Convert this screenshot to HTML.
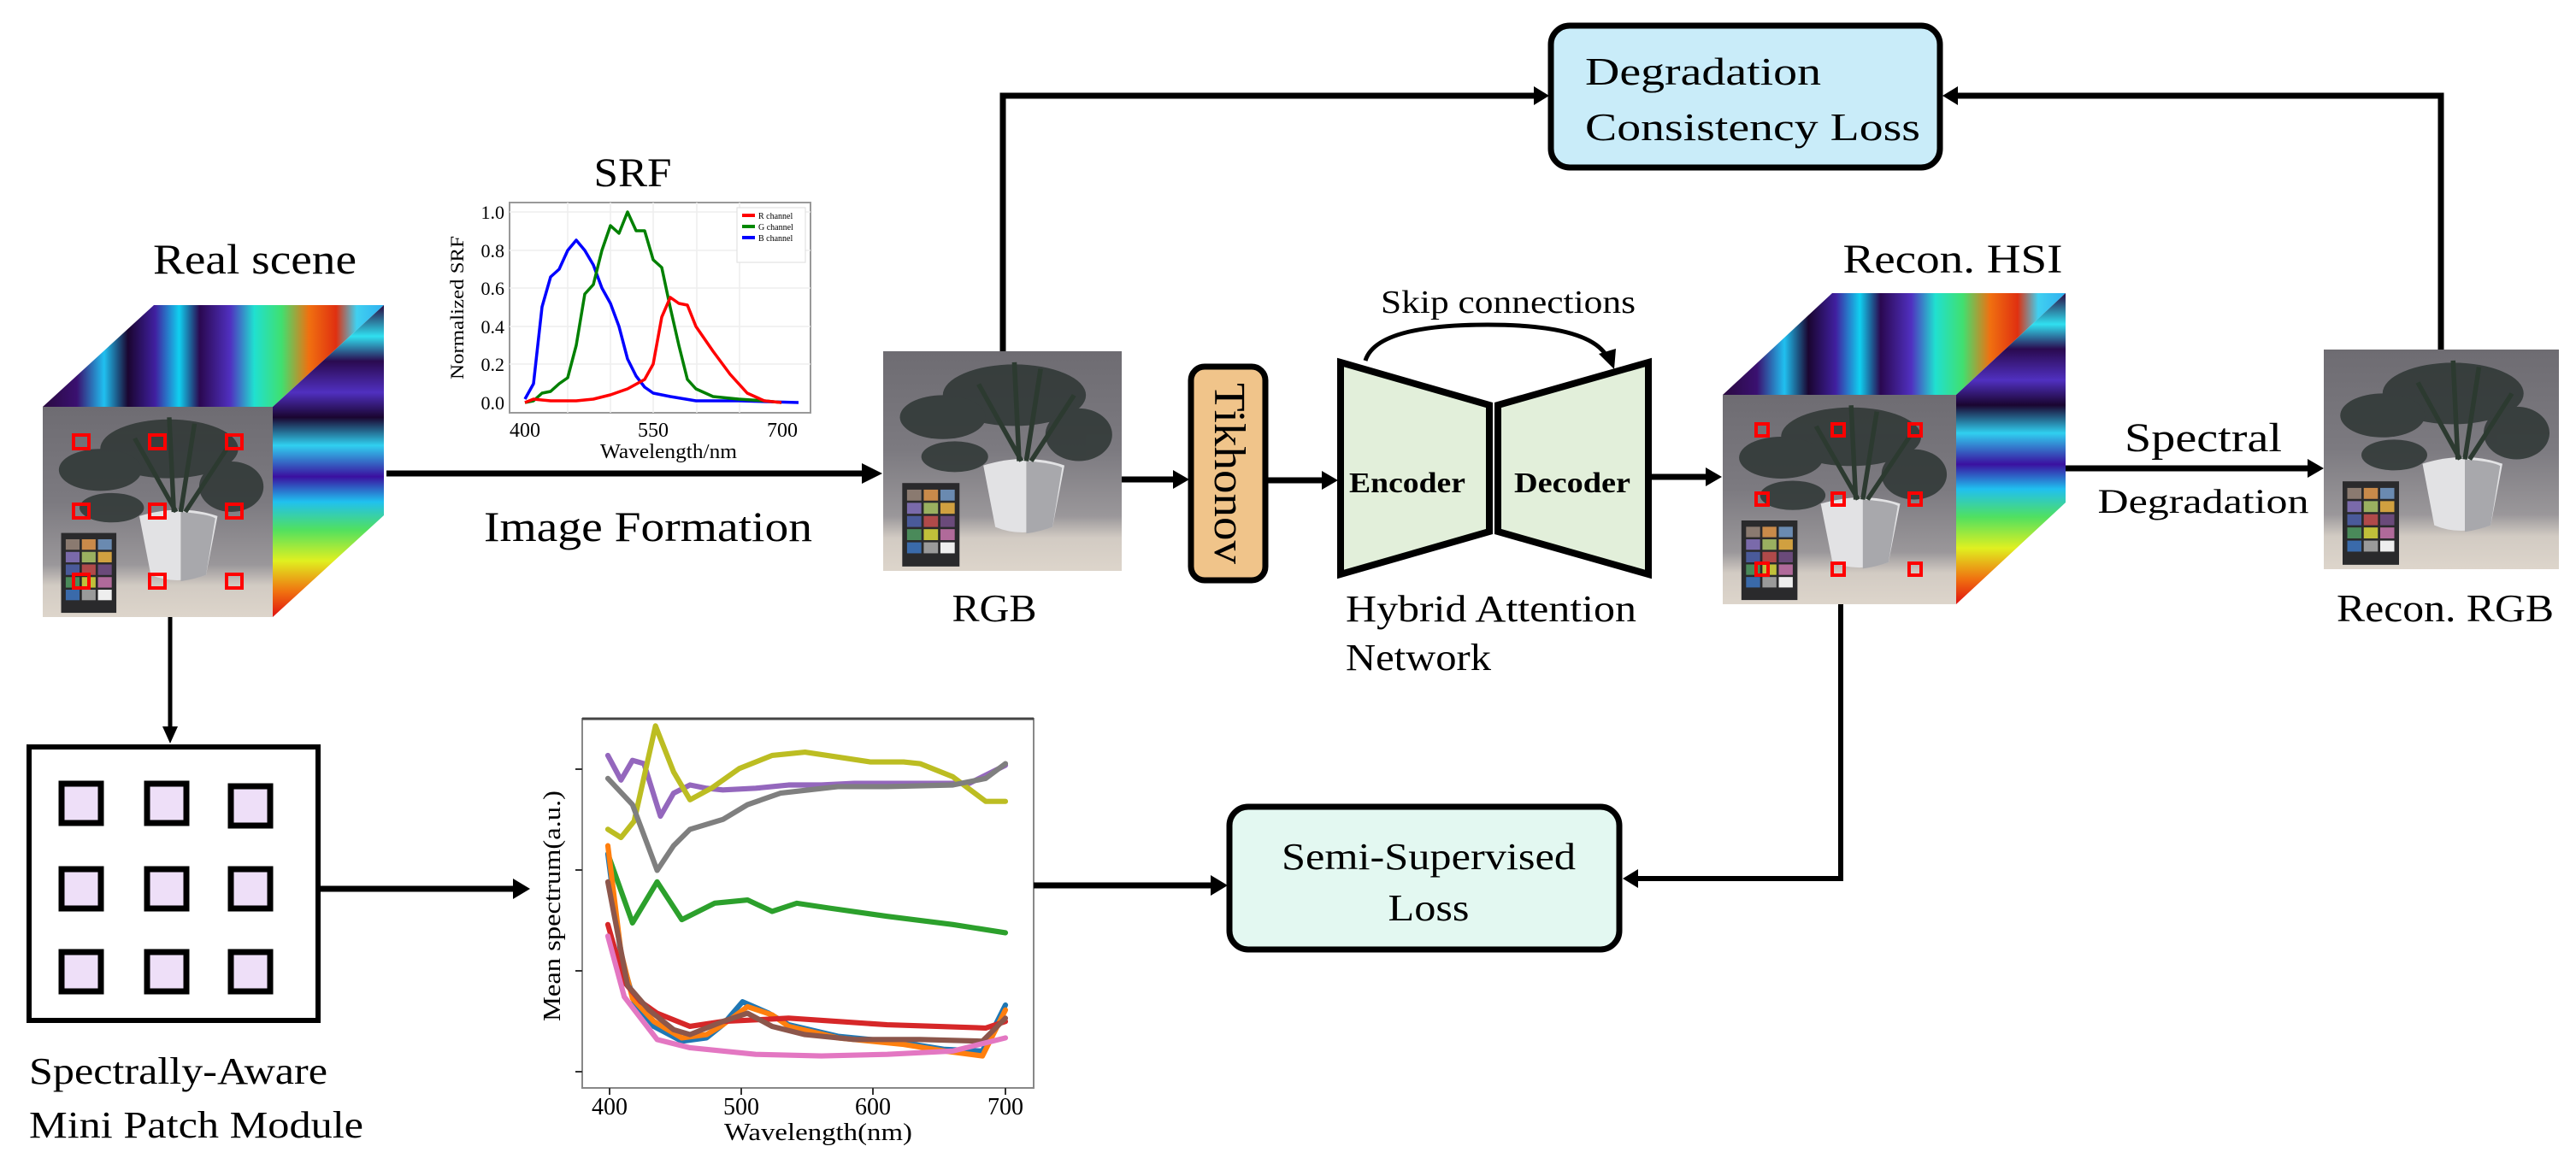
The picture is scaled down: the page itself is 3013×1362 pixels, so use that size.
<!DOCTYPE html>
<html><head><meta charset="utf-8"><style>
html,body{margin:0;padding:0;background:#fff;}
svg{display:block;font-family:"Liberation Serif","Times New Roman",serif;}
svg text{font-family:"Liberation Serif","Times New Roman",serif;fill:#000;}
</style></head><body>
<svg width="3013" height="1362" viewBox="0 0 3013 1362" xmlns="http://www.w3.org/2000/svg" font-family="Liberation Serif, serif">
<defs>
<linearGradient id="bg" x1="0" y1="0" x2="0" y2="1">
<stop offset="0" stop-color="#6e6c72"/><stop offset="0.45" stop-color="#7c7a80"/><stop offset="0.75" stop-color="#9a979a"/><stop offset="0.85" stop-color="#d2cbc3"/><stop offset="1" stop-color="#ddd5cb"/>
</linearGradient>
<symbol id="photo" viewBox="0 0 100 100" preserveAspectRatio="none">
<rect width="100" height="100" fill="url(#bg)"/>
<g fill="#2e3634" opacity="0.85">
<ellipse cx="55" cy="20" rx="30" ry="14"/>
<ellipse cx="25" cy="30" rx="18" ry="10"/>
<ellipse cx="82" cy="38" rx="14" ry="12"/>
<ellipse cx="30" cy="48" rx="14" ry="7"/>
</g>
<path d="M42 52 Q60 46 76 52 L71 80 Q58 85 47 80 Z" fill="#e2e2e4"/>
<path d="M60 50 Q72 51 75 53 L71 80 Q66 82 60 83 Z" fill="#a8a8ac"/>
<path d="M57 50 L55 5 M60 50 L66 8 M62 50 L80 20 M58 50 L40 15" stroke="#2c3a30" stroke-width="2" fill="none"/>
<rect x="8" y="60" width="24" height="38" fill="#2a2a2c"/>
<g>
<rect x="10" y="63" width="6" height="5" fill="#8a7a70"/><rect x="17" y="63" width="6" height="5" fill="#c98a4a"/><rect x="24" y="63" width="6" height="5" fill="#6a8ab0"/>
<rect x="10" y="69" width="6" height="5" fill="#7a6aaa"/><rect x="17" y="69" width="6" height="5" fill="#9ab060"/><rect x="24" y="69" width="6" height="5" fill="#d0a040"/>
<rect x="10" y="75" width="6" height="5" fill="#4a5a9a"/><rect x="17" y="75" width="6" height="5" fill="#b04a4a"/><rect x="24" y="75" width="6" height="5" fill="#6a4a7a"/>
<rect x="10" y="81" width="6" height="5" fill="#4a8a5a"/><rect x="17" y="81" width="6" height="5" fill="#c0c03a"/><rect x="24" y="81" width="6" height="5" fill="#b06a9a"/>
<rect x="10" y="87" width="6" height="5" fill="#3a6aaa"/><rect x="17" y="87" width="6" height="5" fill="#9a9a9a"/><rect x="24" y="87" width="6" height="5" fill="#eeeeee"/>
</g>
</symbol>
<linearGradient id="top" x1="0" y1="0" x2="1" y2="0">
<stop offset="0" stop-color="#2a0a40"/><stop offset="0.1" stop-color="#3a1070"/><stop offset="0.18" stop-color="#20c0f0"/><stop offset="0.25" stop-color="#1a0530"/><stop offset="0.33" stop-color="#4020a0"/><stop offset="0.4" stop-color="#10d0f0"/><stop offset="0.46" stop-color="#2a0850"/><stop offset="0.55" stop-color="#5030c0"/><stop offset="0.62" stop-color="#20e0d0"/><stop offset="0.7" stop-color="#40e070"/><stop offset="0.78" stop-color="#f07010"/><stop offset="0.86" stop-color="#e03010"/><stop offset="0.92" stop-color="#40d0f0"/><stop offset="1" stop-color="#30b0f0"/>
</linearGradient>
<linearGradient id="side" x1="0" y1="0" x2="0" y2="1">
<stop offset="0" stop-color="#2a0840"/><stop offset="0.1" stop-color="#30e0f0"/><stop offset="0.18" stop-color="#2a0a50"/><stop offset="0.28" stop-color="#5030c0"/><stop offset="0.36" stop-color="#1a0530"/><stop offset="0.45" stop-color="#30d0f0"/><stop offset="0.55" stop-color="#3a10a0"/><stop offset="0.63" stop-color="#20c0f0"/><stop offset="0.72" stop-color="#50e060"/><stop offset="0.82" stop-color="#e0f020"/><stop offset="0.92" stop-color="#f07010"/><stop offset="1" stop-color="#e01010"/>
</linearGradient>
</defs>

<text x="298" y="320" font-size="50" text-anchor="middle" textLength="238" lengthAdjust="spacingAndGlyphs">Real scene</text>
<polygon points="50,476 180,357 449,357 319,476" fill="url(#top)"/>
<polygon points="319,476 449,357 449,603 319,722" fill="url(#side)"/>
<use href="#photo" x="50" y="476" width="269" height="246"/>
<g fill="none" stroke="#ff0000" stroke-width="4">
<rect x="86" y="509" width="18" height="16"/><rect x="175" y="509" width="18" height="16"/><rect x="265" y="509" width="18" height="16"/>
<rect x="86" y="590" width="18" height="16"/><rect x="175" y="590" width="18" height="16"/><rect x="265" y="590" width="18" height="16"/>
<rect x="86" y="672" width="18" height="16"/><rect x="175" y="672" width="18" height="16"/><rect x="265" y="672" width="18" height="16"/>
</g>

<text x="740" y="218" font-size="48" text-anchor="middle" textLength="91" lengthAdjust="spacingAndGlyphs">SRF</text>
<rect x="596" y="237" width="352" height="246" fill="#fff" stroke="#999" stroke-width="2"/>
<g stroke="#eee" stroke-width="1.5">
<line x1="596" y1="426" x2="948" y2="426"/><line x1="596" y1="382" x2="948" y2="382"/><line x1="596" y1="337" x2="948" y2="337"/><line x1="596" y1="293" x2="948" y2="293"/><line x1="596" y1="248" x2="948" y2="248"/>
<line x1="664" y1="237" x2="664" y2="483"/><line x1="714" y1="237" x2="714" y2="483"/><line x1="764" y1="237" x2="764" y2="483"/><line x1="815" y1="237" x2="815" y2="483"/><line x1="865" y1="237" x2="865" y2="483"/>
</g>
<g font-size="22" text-anchor="end">
<text x="590" y="479">0.0</text><text x="590" y="434">0.2</text><text x="590" y="390">0.4</text><text x="590" y="345">0.6</text><text x="590" y="301">0.8</text><text x="590" y="256">1.0</text>
</g>
<g font-size="24" text-anchor="middle"><text x="614" y="511">400</text><text x="764" y="511">550</text><text x="915" y="511">700</text></g>
<text x="782" y="536" font-size="24" text-anchor="middle" textLength="160" lengthAdjust="spacingAndGlyphs">Wavelength/nm</text>
<text transform="translate(542,360) rotate(-90)" font-size="22" text-anchor="middle" textLength="168" lengthAdjust="spacingAndGlyphs">Normalized SRF</text>
<g fill="none" stroke-width="3.5" stroke-linejoin="round">
<polyline stroke="#0000ff" points="614,467 624,449 634,359 644,324 654,315 664,293 674,281 684,293 694,310 704,337 714,355 724,382 734,420 744,440 754,453 764,460 784,464 814,469 864,469 934,471"/>
<polyline stroke="#008000" points="614,471 624,469 634,460 644,458 654,449 664,442 674,404 684,344 694,333 704,293 714,264 724,273 734,248 744,270 754,270 764,304 774,313 784,360 794,404 804,444 814,455 834,464 864,467 894,469 914,471"/>
<polyline stroke="#ff0000" points="614,471 624,467 644,469 674,469 694,467 714,462 734,455 754,444 764,426 774,371 784,348 794,355 804,357 814,382 834,411 854,438 874,460 894,469 914,471"/>
</g>
<rect x="862" y="243" width="80" height="64" fill="#fff" stroke="#ddd"/>
<g stroke-width="4"><line x1="868" y1="252" x2="883" y2="252" stroke="#f00"/><line x1="868" y1="265" x2="883" y2="265" stroke="#080"/><line x1="868" y1="278" x2="883" y2="278" stroke="#00f"/></g>
<g font-size="10"><text x="887" y="256">R channel</text><text x="887" y="269">G channel</text><text x="887" y="282">B channel</text></g>

<line x1="452" y1="554" x2="1012" y2="554" stroke="#000" stroke-width="7"/>
<polygon points="1032,554 1008,542 1008,566"/>
<text x="758" y="633" font-size="50" text-anchor="middle" textLength="384" lengthAdjust="spacingAndGlyphs">Image Formation</text>

<use href="#photo" x="1033" y="411" width="279" height="257"/>
<text x="1163" y="727" font-size="46" text-anchor="middle" textLength="99" lengthAdjust="spacingAndGlyphs">RGB</text>

<polyline points="1173,411 1173,112 1796,112" fill="none" stroke="#000" stroke-width="7"/>
<polygon points="1812,112 1794,101 1794,123"/>
<polyline points="2855,409 2855,112 2288,112" fill="none" stroke="#000" stroke-width="7"/>
<polygon points="2272,112 2290,101 2290,123"/>
<rect x="1814" y="30" width="455" height="166" rx="22" fill="#c9ecf9" stroke="#000" stroke-width="7"/>
<text x="1854" y="99" font-size="46" textLength="276" lengthAdjust="spacingAndGlyphs">Degradation</text>
<text x="1854" y="164" font-size="46" textLength="392" lengthAdjust="spacingAndGlyphs">Consistency Loss</text>

<line x1="1312" y1="561" x2="1376" y2="561" stroke="#000" stroke-width="7"/>
<polygon points="1391,561 1372,550 1372,572"/>
<rect x="1393" y="429" width="87" height="250" rx="16" fill="#f0c48a" stroke="#000" stroke-width="7"/>
<text transform="translate(1421,554) rotate(90)" font-size="52" text-anchor="middle" textLength="212" lengthAdjust="spacingAndGlyphs">Tikhonov</text>
<line x1="1481" y1="562" x2="1550" y2="562" stroke="#000" stroke-width="7"/>
<polygon points="1565,562 1546,551 1546,573"/>

<polygon points="1568,424 1742,474 1742,622 1568,672" fill="#e2efda" stroke="#000" stroke-width="8"/>
<polygon points="1752,474 1928,424 1928,672 1752,622" fill="#e2efda" stroke="#000" stroke-width="8"/>
<text x="1646" y="576" font-size="34" font-weight="bold" text-anchor="middle" textLength="136" lengthAdjust="spacingAndGlyphs">Encoder</text>
<text x="1839" y="576" font-size="34" font-weight="bold" text-anchor="middle" textLength="136" lengthAdjust="spacingAndGlyphs">Decoder</text>
<path d="M1597,422 Q1610,380 1740,380 Q1860,380 1880,418" fill="none" stroke="#000" stroke-width="5"/>
<polygon points="1888,432 1870,414 1890,408"/>
<text x="1764" y="366" font-size="38" text-anchor="middle" textLength="298" lengthAdjust="spacingAndGlyphs">Skip connections</text>
<text x="1574" y="727" font-size="44" textLength="340" lengthAdjust="spacingAndGlyphs">Hybrid Attention</text>
<text x="1574" y="784" font-size="44" textLength="170" lengthAdjust="spacingAndGlyphs">Network</text>

<line x1="1931" y1="558" x2="1998" y2="558" stroke="#000" stroke-width="7"/>
<polygon points="2014,558 1995,547 1995,569"/>

<text x="2284" y="319" font-size="48" text-anchor="middle" textLength="257" lengthAdjust="spacingAndGlyphs">Recon. HSI</text>
<polygon points="2015,462 2143,343 2416,343 2288,462" fill="url(#top)"/>
<polygon points="2288,462 2416,343 2416,588 2288,707" fill="url(#side)"/>
<use href="#photo" x="2015" y="462" width="273" height="245"/>
<g fill="none" stroke="#ff0000" stroke-width="4">
<rect x="2054" y="496" width="14" height="14"/><rect x="2143" y="496" width="14" height="14"/><rect x="2233" y="496" width="14" height="14"/>
<rect x="2054" y="577" width="14" height="14"/><rect x="2143" y="577" width="14" height="14"/><rect x="2233" y="577" width="14" height="14"/>
<rect x="2054" y="659" width="14" height="14"/><rect x="2143" y="659" width="14" height="14"/><rect x="2233" y="659" width="14" height="14"/>
</g>

<line x1="2416" y1="548" x2="2702" y2="548" stroke="#000" stroke-width="7"/>
<polygon points="2718,548 2699,537 2699,559"/>
<text x="2577" y="528" font-size="48" text-anchor="middle" textLength="184" lengthAdjust="spacingAndGlyphs">Spectral</text>
<text x="2577" y="600" font-size="40" text-anchor="middle" textLength="247" lengthAdjust="spacingAndGlyphs">Degradation</text>
<use href="#photo" x="2718" y="409" width="275" height="257"/>
<text x="2860" y="727" font-size="46" text-anchor="middle" textLength="254" lengthAdjust="spacingAndGlyphs">Recon. RGB</text>

<polyline points="2153,707 2153,1028 1914,1028" fill="none" stroke="#000" stroke-width="6"/>
<polygon points="1898,1028 1916,1017 1916,1039"/>
<rect x="1438" y="944" width="456" height="167" rx="22" fill="#e3f8f1" stroke="#000" stroke-width="7"/>
<text x="1671" y="1017" font-size="44" text-anchor="middle" textLength="344" lengthAdjust="spacingAndGlyphs">Semi-Supervised</text>
<text x="1671" y="1077" font-size="44" text-anchor="middle" textLength="95" lengthAdjust="spacingAndGlyphs">Loss</text>

<line x1="199" y1="722" x2="199" y2="852" stroke="#000" stroke-width="5"/>
<polygon points="199,870 190,850 208,850"/>
<rect x="34" y="874" width="338" height="320" fill="#fff" stroke="#000" stroke-width="6"/>
<g fill="#eedff8" stroke="#000" stroke-width="7">
<rect x="72" y="917" width="46" height="46"/><rect x="172" y="917" width="46" height="46"/><rect x="270" y="920" width="46" height="46"/>
<rect x="72" y="1017" width="46" height="46"/><rect x="172" y="1017" width="46" height="46"/><rect x="270" y="1017" width="46" height="46"/>
<rect x="72" y="1114" width="46" height="46"/><rect x="172" y="1114" width="46" height="46"/><rect x="270" y="1114" width="46" height="46"/>
</g>
<text x="34" y="1268" font-size="44" textLength="349" lengthAdjust="spacingAndGlyphs">Spectrally-Aware</text>
<text x="34" y="1331" font-size="44" textLength="391" lengthAdjust="spacingAndGlyphs">Mini Patch Module</text>
<line x1="375" y1="1040" x2="602" y2="1040" stroke="#000" stroke-width="7"/>
<polygon points="620,1040 600,1028 600,1052"/>

<rect x="681" y="841" width="528" height="432" fill="#fff" stroke="#888" stroke-width="2"/>
<line x1="681" y1="841" x2="1209" y2="841" stroke="#444" stroke-width="3"/>
<g stroke="#333" stroke-width="2">
<line x1="713" y1="1273" x2="713" y2="1281"/><line x1="867" y1="1273" x2="867" y2="1281"/><line x1="1021" y1="1273" x2="1021" y2="1281"/><line x1="1176" y1="1273" x2="1176" y2="1281"/>
<line x1="673" y1="900" x2="681" y2="900"/><line x1="673" y1="1018" x2="681" y2="1018"/><line x1="673" y1="1136" x2="681" y2="1136"/><line x1="673" y1="1254" x2="681" y2="1254"/>
</g>
<g font-size="28" text-anchor="middle"><text x="713" y="1304">400</text><text x="867" y="1304">500</text><text x="1021" y="1304">600</text><text x="1176" y="1304">700</text></g>
<text x="957" y="1334" font-size="28" text-anchor="middle" textLength="220" lengthAdjust="spacingAndGlyphs">Wavelength(nm)</text>
<text transform="translate(655,1060) rotate(-90)" font-size="28" text-anchor="middle" textLength="270" lengthAdjust="spacingAndGlyphs">Mean spectrum(a.u.)</text>
<g transform="scale(1.92156)" fill="none" stroke-width="3.2" stroke-linejoin="round" stroke-linecap="round">
<polyline stroke="#9467bd" points="370,460 378,475 385,463 392,465 402,497 410,483 420,478 430,480 440,481 460,480 480,478 500,478 520,477 560,477 590,477 612,466"/>
<polyline stroke="#bcbd22" points="370,505 378,510 386,500 399,442 410,470 420,487 433,480 450,468 470,460 490,458 510,461 530,464 550,464 560,465 580,473 600,488 612,488"/>
<polyline stroke="#7f7f7f" points="370,474 385,490 400,530 410,515 420,505 440,499 455,490 475,483 510,479 540,479 580,478 600,474 612,465"/>
<polyline stroke="#2ca02c" points="370,520 385,562 400,537 415,560 435,550 455,548 470,555 485,550 505,553 540,558 580,563 612,568"/>
<polyline stroke="#1f77b4" points="370,520 378,582 386,610 398,625 415,634 430,632 440,624 452,610 468,617 480,624 510,631 550,635 575,639 598,640 612,612"/>
<polyline stroke="#ff7f0e" points="370,515 378,580 385,608 398,622 415,632 430,630 440,624 455,613 470,618 480,625 510,632 550,636 575,640 598,643 612,615"/>
<polyline stroke="#d62728" points="370,563 380,598 390,610 400,617 420,625 440,622 460,621 480,620 510,622 540,624 570,625 600,626 612,622"/>
<polyline stroke="#8c564b" points="370,537 382,600 395,615 410,627 420,630 440,622 455,617 470,625 490,630 520,633 560,633 598,634 612,620"/>
<polyline stroke="#e377c2" points="370,570 380,607 400,633 420,638 460,642 500,643 540,642 580,640 612,632"/>
</g>
<line x1="1209" y1="1036" x2="1420" y2="1036" stroke="#000" stroke-width="7"/>
<polygon points="1436,1036 1416,1024 1416,1048"/>
</svg>
</body></html>
